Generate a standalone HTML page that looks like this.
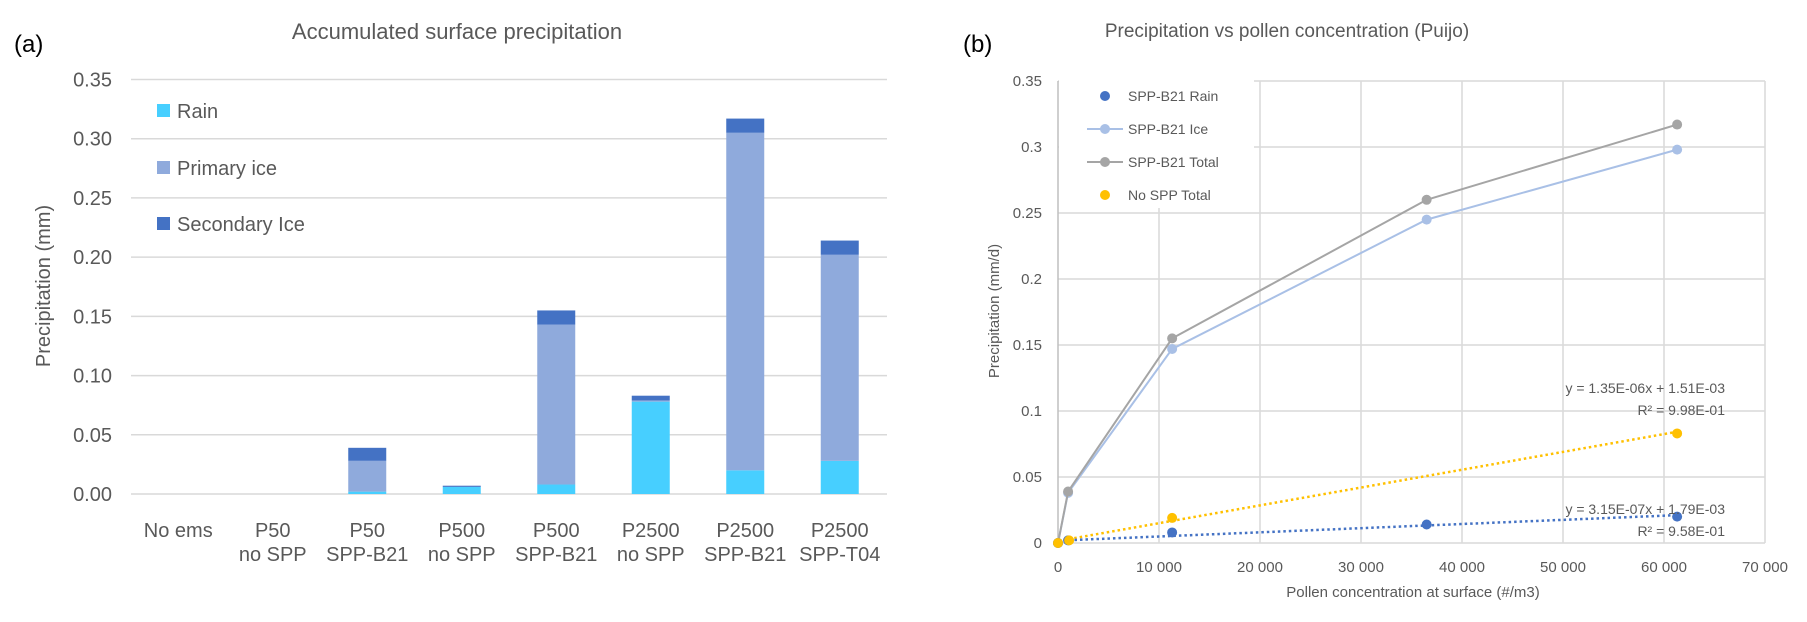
<!DOCTYPE html>
<html><head><meta charset="utf-8">
<style>
html,body{margin:0;padding:0;background:#fff;}
svg{display:block;font-family:"Liberation Sans",sans-serif;}
</style></head>
<body>
<svg id="fig" width="1807" height="622" viewBox="0 0 1807 622">
<text x="14" y="52" font-size="24" fill="#000">(a)</text>
<text x="457" y="39" font-size="22" fill="#595959" text-anchor="middle">Accumulated surface precipitation</text>
<text transform="translate(50,286) rotate(-90)" font-size="20" fill="#595959" text-anchor="middle">Precipitation (mm)</text>
<text x="963" y="52" font-size="24" fill="#000">(b)</text>
<text x="1287" y="37" font-size="19" fill="#595959" text-anchor="middle">Precipitation vs pollen concentration (Puijo)</text>
<text transform="translate(999,311) rotate(-90)" font-size="15" fill="#595959" text-anchor="middle">Precipitation (mm/d)</text>
<text x="1413" y="597" font-size="15" fill="#595959" text-anchor="middle">Pollen concentration at surface (#/m3)</text>
<g id="ga"></g>
<g id="gb"></g>
</svg>
<script>
// ---------- Chart A data ----------
const catLine1 = ["No ems","P50","P50","P500","P500","P2500","P2500","P2500"];
const catLine2 = ["","no SPP","SPP-B21","no SPP","SPP-B21","no SPP","SPP-B21","SPP-T04"];
const rainVals = [0,0,0.002,0.006,0.008,0.078,0.020,0.028];
const primaryVals = [0,0,0.026,0,0.135,0.001,0.285,0.174];
const secondaryVals = [0,0,0.011,0.001,0.012,0.004,0.012,0.012];
const aTicks = [0,0.05,0.10,0.15,0.20,0.25,0.30,0.35];
const aTickLabels = ["0.00","0.05","0.10","0.15","0.20","0.25","0.30","0.35"];

// ---------- Chart B data ----------
const pollenX = [0,1000,11300,36500,61300];
const rainB21 = [0,0.002,0.008,0.014,0.020];
const iceB21 = [0,0.038,0.147,0.245,0.298];
const totalB21 = [0,0.039,0.155,0.260,0.317];
const noSppX = [0,1100,11300,61300];
const noSppTotal = [0,0.002,0.019,0.083];
const trendNoSpp = [1.35e-6,1.51e-3];
const trendRain = [3.15e-7,1.79e-3];
const bXTicks = [0,10000,20000,30000,40000,50000,60000,70000];
const bXTickLabels = ["0","10 000","20 000","30 000","40 000","50 000","60 000","70 000"];
const bYTicks = [0,0.05,0.1,0.15,0.2,0.25,0.3,0.35];
const bYTickLabels = ["0","0.05","0.1","0.15","0.2","0.25","0.3","0.35"];

const NS="http://www.w3.org/2000/svg";
function mk(parent,tag,attrs,text){const e=document.createElementNS(NS,tag);for(const k in attrs)e.setAttribute(k,attrs[k]);if(text!==undefined)e.textContent=text;parent.appendChild(e);return e;}

// ---- Chart A ----
const ga=document.getElementById('ga');
const aL=131,aR=887,aTop=79.5,aBot=494,aMax=0.35;
const ay=v=>aBot-(v/aMax)*(aBot-aTop);
const aBand=(aR-aL)/catLine1.length;
const ax=i=>aL+aBand*(i+0.5);
aTicks.forEach((t,i)=>{
  const l=mk(ga,'line',{x1:aL,x2:aR,y1:ay(t),y2:ay(t),stroke:'#d9d9d9','stroke-width':1.5});
  
  
  const tx=mk(ga,'text',{x:112,y:ay(t)+7,'font-size':20,fill:'#595959','text-anchor':'end'},aTickLabels[i]);
  
  
});
const colors={rain:'#47cfff',primary:'#8faadc',secondary:'#4472c4'};
const bw=38;
catLine1.forEach((c,i)=>{
  let base=0;
  [['rain',rainVals],['primary',primaryVals],['secondary',secondaryVals]].forEach(([k,arr])=>{
    const v=arr[i];
    if(v>0){
      const r=mk(ga,'rect',{x:ax(i)-bw/2,y:ay(base+v),width:bw,height:ay(base)-ay(base+v),fill:colors[k]});
      
      
    }
    base+=v;
  });
  const t1=mk(ga,'text',{x:ax(i),y:537,'font-size':20,fill:'#595959','text-anchor':'middle'},c);
  
  
  if(catLine2[i]){
    const t2=mk(ga,'text',{x:ax(i),y:561,'font-size':20,fill:'#595959','text-anchor':'middle'},catLine2[i]);
    
    
  }
});
const aLeg=[['Rain','rain',111],['Primary ice','primary',168],['Secondary Ice','secondary',224]];
aLeg.forEach(([lab,k,y])=>{
  const r=mk(ga,'rect',{x:157,y:y-7,width:13,height:13,fill:colors[k]});
  
  
  const t=mk(ga,'text',{x:177,y:y+7,'font-size':20,fill:'#595959'},lab);
  
  
});

// ---- Chart B ----
const gb=document.getElementById('gb');
const bL=1058,bR=1765,bTop=81,bBot=543,bXMax=70000,bYMax=0.35;
const bx=v=>bL+(v/bXMax)*(bR-bL);
const by=v=>bBot-(v/bYMax)*(bBot-bTop);
bYTicks.forEach((t,i)=>{
  const l=mk(gb,'line',{x1:bL,x2:bR,y1:by(t),y2:by(t),stroke:'#d9d9d9','stroke-width':1.5});
  
  
  const tx=mk(gb,'text',{x:1042,y:by(t)+5,'font-size':15,fill:'#595959','text-anchor':'end'},bYTickLabels[i]);
  
  
});
bXTicks.forEach((t,i)=>{
  const l=mk(gb,'line',{x1:bx(t),x2:bx(t),y1:bTop,y2:bBot,stroke:i==0?'#bfbfbf':'#d9d9d9','stroke-width':1.5});
  
  
  const tx=mk(gb,'text',{x:bx(t),y:572,'font-size':15,fill:'#595959','text-anchor':'middle'},bXTickLabels[i]);
  
  
});
// legend background
const lb=mk(gb,'rect',{x:bL+1,y:74,width:195,height:134,fill:'#fff'});



// trendlines
function trend(coef,color,name){
  const x0=0,x1=61300;
  const l=mk(gb,'line',{x1:bx(x0),y1:by(coef[0]*x0+coef[1]),x2:bx(x1),y2:by(coef[0]*x1+coef[1]),stroke:color,'stroke-width':2.5,'stroke-dasharray':'2.5 3'});
  
  
}
trend(trendNoSpp,'#ffc000','trendline-no-spp-total');
trend(trendRain,'#4472c4','trendline-spp-b21-rain');

function series(xs,ys,color,line,name){
  if(line){
    const p=mk(gb,'polyline',{points:xs.map((x,i)=>bx(x)+','+by(ys[i])).join(' '),fill:'none',stroke:color,'stroke-width':2});
    
    
  }
  xs.forEach((x,i)=>{
    const c=mk(gb,'circle',{cx:bx(x),cy:by(ys[i]),r:5,fill:color});
    
    
  });
}
series(pollenX,iceB21,'#a9c0e6',true,'spp-b21-ice');
series(pollenX,totalB21,'#a5a5a5',true,'spp-b21-total');
series(pollenX,rainB21,'#4472c4',false,'spp-b21-rain');
series(noSppX,noSppTotal,'#ffc000',false,'no-spp-total');

// trend labels
[['y = 1.35E-06x + 1.51E-03',393],['R² = 9.98E-01',415],['y = 3.15E-07x + 1.79E-03',514],['R² = 9.58E-01',536]].forEach(([t,y],i)=>{
  const e=mk(gb,'text',{x:1725,y:y,'font-size':14,fill:'#595959','text-anchor':'end'},t);
  
  
});

// legend entries
const bLeg=[['SPP-B21 Rain','#4472c4',false,96],['SPP-B21 Ice','#a9c0e6',true,129],['SPP-B21 Total','#a5a5a5',true,162],['No SPP Total','#ffc000',false,195]];
bLeg.forEach(([lab,col,ln,y])=>{
  if(ln){
    const l=mk(gb,'line',{x1:1087,x2:1123,y1:y,y2:y,stroke:col,'stroke-width':2});
    
    
  }
  const c=mk(gb,'circle',{cx:1105,cy:y,r:5,fill:col});
  
  
  const t=mk(gb,'text',{x:1128,y:y+5,'font-size':14,fill:'#595959'},lab);
  
  
});
</script>
</body></html>
